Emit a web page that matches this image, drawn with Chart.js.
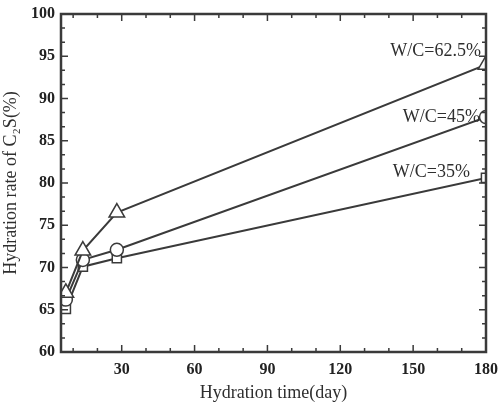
<!DOCTYPE html>
<html>
<head>
  <meta charset="UTF-8">
  <title>Hydration rate of C2S</title>
  <script src="https://cdn.jsdelivr.net/npm/chart.js"></script>
  <style>
    html, body { margin: 0; padding: 0; background: #fff; }
    #wrap { width: 500px; height: 404px; }
  </style>
</head>
<body>
  <div id="wrap"><canvas id="myChart" width="500" height="404"></canvas></div>

  <script>
    const days = [7, 14, 28, 180];
    const wc625 = [67.0, 72.0, 76.5, 94.0];
    const wc45 = [66.2, 70.9, 72.1, 87.8];
    const wc35 = [65.1, 70.1, 71.1, 80.6];
    const seriesNames = ['W/C=62.5%', 'W/C=45%', 'W/C=35%'];
    const xTicks = [30, 60, 90, 120, 150, 180];
    const yTicks = [60, 65, 70, 75, 80, 85, 90, 95, 100];

    const ink = '#3a3a3a';
    const serif = "'Liberation Serif', 'DejaVu Serif', serif";

    function pts(vals) {
      return days.map((d, i) => ({ x: d, y: vals[i] }));
    }

    // frame, inward ticks and end labels
    const frame = {
      id: 'frame',
      afterDraw(chart) {
        const ctx = chart.ctx;
        const a = chart.chartArea;
        const xs = chart.scales.x, ys = chart.scales.y;
        ctx.save();
        ctx.strokeStyle = ink;
        ctx.lineWidth = 1.5;
        ctx.beginPath();
        for (let v = 10; v <= 180; v += 10) {
          const x = xs.getPixelForValue(v);
          const len = v % 30 === 0 ? 7 : 4;
          ctx.moveTo(x, a.bottom); ctx.lineTo(x, a.bottom - len);
          ctx.moveTo(x, a.top); ctx.lineTo(x, a.top + len);
        }
        for (let k = 0; k <= 24; k++) {
          const v = 60 + k * 5 / 3;
          const y = ys.getPixelForValue(v);
          const len = k % 3 === 0 ? 7 : 4;
          ctx.moveTo(a.left, y); ctx.lineTo(a.left + len, y);
          ctx.moveTo(a.right, y); ctx.lineTo(a.right - len, y);
        }
        ctx.stroke();
        ctx.lineWidth = 2.5;
        ctx.strokeRect(a.left, a.top, a.right - a.left, a.bottom - a.top);

        // series labels near the last point
        const offs = [[-5, -13], [-6, 0], [-16, -6]];
        ctx.fillStyle = '#2e2e2e';
        ctx.font = '18px ' + serif;
        ctx.textAlign = 'right';
        ctx.textBaseline = 'middle';
        chart.data.datasets.forEach((ds, i) => {
          const last = ds.data[ds.data.length - 1];
          const x = xs.getPixelForValue(last.x) + offs[i][0];
          const y = ys.getPixelForValue(last.y) + offs[i][1];
          ctx.fillText(seriesNames[i], x, y);
        });
        ctx.restore();
      }
    };

    const common = {
      borderColor: ink,
      borderWidth: 2,
      pointBackgroundColor: '#fff',
      pointBorderColor: ink,
      pointBorderWidth: 1.5,
      fill: false,
      tension: 0
    };

    new Chart(document.getElementById('myChart'), {
      type: 'line',
      data: {
        datasets: [
          Object.assign({ label: seriesNames[0], data: pts(wc625), pointStyle: 'triangle', pointRadius: 9 }, common),
          Object.assign({ label: seriesNames[1], data: pts(wc45), pointStyle: 'circle', pointRadius: 6.5 }, common),
          Object.assign({ label: seriesNames[2], data: pts(wc35), pointStyle: 'rect', pointRadius: 6.5 }, common)
        ]
      },
      options: {
        responsive: false,
        animation: false,
        layout: { padding: { top: 14, right: 14, left: 0, bottom: 0 } },
        plugins: {
          legend: { display: false },
          tooltip: { enabled: false }
        },
        scales: {
          x: {
            type: 'linear',
            min: 5,
            max: 180,
            afterBuildTicks(s) { s.ticks = xTicks.map(v => ({ value: v })); },
            afterFit(s) { s.height = 52; s.paddingLeft = 0; s.paddingRight = 0; },
            grid: { display: false, drawTicks: false },
            border: { display: false },
            ticks: { color: '#222', padding: 8, font: { family: serif, size: 16, weight: 'bold' }, maxRotation: 0 },
            title: {
              display: true,
              text: 'Hydration time(day)',
              color: '#2e2e2e',
              font: { family: serif, size: 18 },
              padding: { top: 4, bottom: 0 }
            }
          },
          y: {
            min: 60,
            max: 100,
            afterBuildTicks(s) { s.ticks = yTicks.map(v => ({ value: v })); },
            afterFit(s) { s.width = 61; s.paddingTop = 0; s.paddingBottom = 0; },
            grid: { display: false, drawTicks: false },
            border: { display: false },
            ticks: { color: '#222', padding: 6, font: { family: serif, size: 16, weight: 'bold' } },
            title: {
              display: true,
              text: 'Hydration rate of C\u2082S(%)',
              color: '#2e2e2e',
              font: { family: serif, size: 18 },
              padding: { top: 0, bottom: 2 }
            }
          }
        }
      },
      plugins: [frame]
    });
  </script>
</body>
</html>
